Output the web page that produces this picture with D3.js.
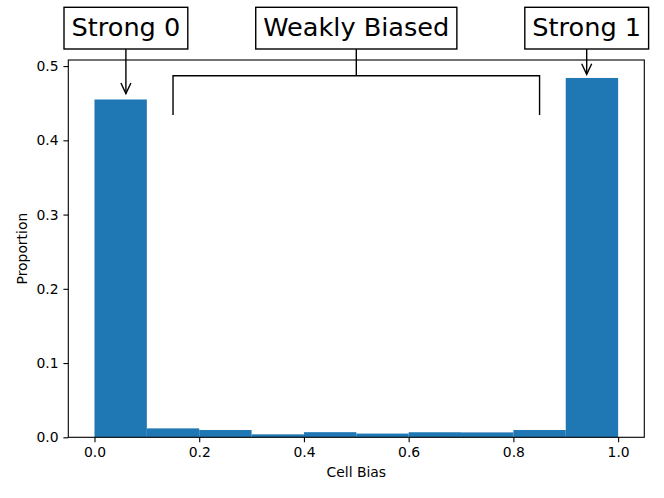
<!DOCTYPE html>
<html>
<head>
<meta charset="utf-8">
<script src="https://cdnjs.cloudflare.com/ajax/libs/d3/7.8.5/d3.min.js"></script>
<style>
  body { margin: 0; background: #fff; }
  svg { display: block; font-family: "DejaVu Sans", sans-serif; }
</style>
</head>
<body>
<script>
// histogram of cell bias, 10 bins
var binEdges = [0, 0.1, 0.2, 0.3, 0.4, 0.5, 0.6, 0.7, 0.8, 0.9, 1.0];
var proportions = [0.455, 0.012, 0.0098, 0.004, 0.0069, 0.005, 0.0068, 0.0066, 0.0098, 0.484];
var xTicks = [0, 0.2, 0.4, 0.6, 0.8, 1.0];
var yTicks = [0, 0.1, 0.2, 0.3, 0.4, 0.5];

// annotations (data coords)
var pointerLabels = ['Strong 0', 'Strong 1'];
var pointerX = [0.06, 0.94];
var pointerTipY = [0.463, 0.489];
var bracketLabel = 'Weakly Biased';
var bracketX = [0.15, 0.5, 0.85];
var bracketY = [0.434, 0.487];
var labelY = 0.551;

var width = 664;
var height = 498;
var margin = {top: 60, right: 19.7, bottom: 60.7, left: 68.3};
var blue = '#1f77b4';

window.document.addEventListener('DOMContentLoaded', init, false);

function init() {
    var svg = d3.select('body').append('svg')
        .attr('width', width)
        .attr('height', height);

    var x = d3.scaleLinear()
        .domain([-0.05, 1.05])
        .range([margin.left, width - margin.right]);
    var y = d3.scaleLinear()
        .domain([0, d3.max(proportions) * 1.05])
        .range([height - margin.bottom, margin.top]);

    // bars
    svg.append('g').selectAll('rect')
        .data(proportions)
        .join('rect')
        .attr('x', function(d, i) { return x(binEdges[i]); })
        .attr('width', function(d, i) { return x(binEdges[i + 1]) - x(binEdges[i]); })
        .attr('y', function(d) { return y(d); })
        .attr('height', function(d) { return y(0) - y(d); })
        .attr('fill', blue);

    // axes
    var xAxis = svg.append('g')
        .attr('transform', 'translate(0,' + (height - margin.bottom) + ')')
        .call(d3.axisBottom(x).tickValues(xTicks).tickFormat(d3.format('.1f'))
            .tickSizeInner(4.9).tickSizeOuter(0).tickPadding(4.9));
    var yAxis = svg.append('g')
        .attr('transform', 'translate(' + margin.left + ',0)')
        .call(d3.axisLeft(y).tickValues(yTicks).tickFormat(d3.format('.1f'))
            .tickSizeInner(4.9).tickSizeOuter(0).tickPadding(4.9));
    [xAxis, yAxis].forEach(function(a) {
        a.select('.domain').remove();
        a.selectAll('line').attr('stroke', '#000').attr('stroke-width', 1.1);
        a.selectAll('text').attr('font-size', 13.9).attr('fill', '#000')
            .attr('font-family', '"DejaVu Sans", sans-serif');
    });

    // frame
    svg.append('rect')
        .attr('x', margin.left)
        .attr('y', margin.top)
        .attr('width', width - margin.left - margin.right)
        .attr('height', height - margin.top - margin.bottom)
        .attr('fill', 'none')
        .attr('stroke', '#000')
        .attr('stroke-width', 1.1);

    // axis labels
    svg.append('text')
        .attr('x', (margin.left + width - margin.right) / 2)
        .attr('y', 477)
        .attr('text-anchor', 'middle')
        .attr('font-size', 13.9)
        .text('Cell Bias');
    svg.append('text')
        .attr('transform', 'translate(27,' + (margin.top + height - margin.bottom) / 2 + ') rotate(-90)')
        .attr('text-anchor', 'middle')
        .attr('font-size', 13.9)
        .text('Proportion');

    var boxBottom = 49;

    // pointer arrows
    pointerLabels.forEach(function(label, i) {
        var px = x(pointerX[i]);
        var tip = y(pointerTipY[i]);
        svg.append('line')
            .attr('x1', px).attr('y1', boxBottom)
            .attr('x2', px).attr('y2', tip)
            .attr('stroke', '#000').attr('stroke-width', 1.4);
        svg.append('path')
            .attr('d', 'M' + (px - 5) + ',' + (tip - 10.5) + 'L' + px + ',' + tip + 'L' + (px + 5) + ',' + (tip - 10.5))
            .attr('fill', 'none')
            .attr('stroke', '#000').attr('stroke-width', 1.4);
        addLabel(svg, label, px, y(labelY));
    });

    // bracket
    var bx = bracketX.map(x);
    var by = bracketY.map(y);
    svg.append('path')
        .attr('d', 'M' + bx[0] + ',' + by[0] + 'V' + by[1] + 'H' + bx[2] + 'V' + by[0] +
            'M' + bx[1] + ',' + by[1] + 'V' + boxBottom)
        .attr('fill', 'none')
        .attr('stroke', '#000').attr('stroke-width', 1.4);
    addLabel(svg, bracketLabel, bx[1], y(labelY));
}

function addLabel(svg, label, cx, cy) {
    var g = svg.append('g');
    var box = g.append('rect');
    var t = g.append('text')
        .attr('x', cx)
        .attr('y', cy + 8)
        .attr('text-anchor', 'middle')
        .attr('font-size', 25.6)
        .text(label);
    var w = t.node().getComputedTextLength() + 15;
    box.attr('x', cx - w / 2)
        .attr('y', 7.3)
        .attr('width', w)
        .attr('height', 41.7)
        .attr('fill', '#fff')
        .attr('stroke', '#000')
        .attr('stroke-width', 1.4);
}
</script>
</body>
</html>
